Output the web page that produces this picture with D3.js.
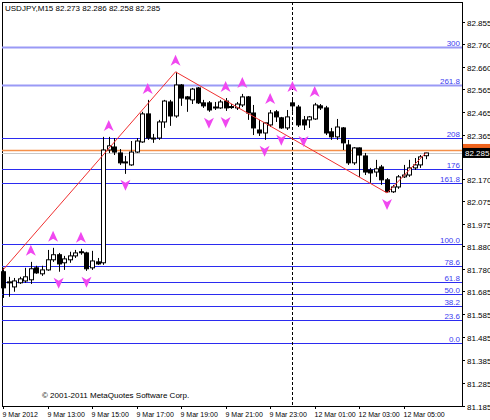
<!DOCTYPE html>
<html>
<head>
<meta charset="utf-8">
<script src="https://cdn.jsdelivr.net/npm/d3@7"></script>
<style>
body { margin: 0; background: #fff; }
svg { font-family: "Liberation Sans", Arial, sans-serif; }
</style>
</head>
<body>
<svg id="chart"></svg>
<script>
const symbolTitle = 'USDJPY,M15  82.273 82.286 82.258 82.285';

// bars, oldest first
const opens = [81.768,81.720,81.702,81.720,81.728,81.733,81.785,81.759,81.776,81.820,81.842,81.807,81.820,81.837,81.855,81.850,81.785,81.811,81.807,82.298,
  82.311,82.285,82.246,82.233,82.289,82.333,82.455,82.350,82.350,82.420,82.507,82.446,82.581,82.529,82.516,82.568,82.503,82.503,82.481,82.481,
  82.511,82.485,82.481,82.494,82.529,82.459,82.385,82.372,82.407,82.464,82.438,82.394,82.503,82.485,82.429,82.429,82.433,82.490,82.481,82.377,
  82.355,82.394,82.320,82.242,82.307,82.272,82.211,82.202,82.224,82.168,82.116,82.137,82.181,82.189,82.220,82.233,82.273];
const highs = [81.785,81.746,81.741,81.746,81.785,81.811,81.794,81.794,81.863,81.872,81.850,81.837,81.855,81.863,81.868,81.855,81.859,81.828,82.355,82.355,
  82.350,82.302,82.272,82.337,82.350,82.464,82.516,82.368,82.429,82.516,82.516,82.638,82.585,82.533,82.568,82.572,82.516,82.511,82.507,82.516,
  82.524,82.498,82.507,82.542,82.533,82.494,82.429,82.416,82.472,82.472,82.442,82.472,82.524,82.494,82.446,82.446,82.503,82.498,82.490,82.394,
  82.433,82.398,82.342,82.311,82.309,82.285,82.220,82.255,82.233,82.176,82.146,82.189,82.233,82.255,82.263,82.276,82.286];
const lows = [81.654,81.659,81.681,81.715,81.720,81.715,81.759,81.750,81.772,81.811,81.768,81.776,81.807,81.828,81.842,81.772,81.776,81.798,81.798,82.285,
  82.276,82.233,82.194,82.229,82.285,82.329,82.342,82.329,82.342,82.394,82.403,82.438,82.490,82.464,82.498,82.498,82.481,82.464,82.472,82.477,
  82.468,82.477,82.472,82.485,82.429,82.363,82.359,82.342,82.398,82.420,82.390,82.385,82.464,82.398,82.385,82.394,82.429,82.472,82.363,82.342,
  82.342,82.298,82.233,82.233,82.181,82.189,82.155,82.181,82.146,82.111,82.111,82.129,82.176,82.181,82.211,82.220,82.258];
const closes = [81.698,81.724,81.728,81.737,81.746,81.781,81.763,81.776,81.820,81.842,81.802,81.824,81.837,81.850,81.853,81.781,81.815,81.802,82.298,82.316,
  82.289,82.242,82.244,82.289,82.337,82.455,82.350,82.348,82.420,82.511,82.446,82.581,82.524,82.520,82.563,82.503,82.490,82.472,82.485,82.507,
  82.481,82.487,82.498,82.529,82.459,82.394,82.372,82.416,82.459,82.442,82.394,82.442,82.490,82.407,82.407,82.442,82.494,82.481,82.372,82.355,
  82.398,82.329,82.242,82.307,82.276,82.202,82.198,82.216,82.168,82.116,82.137,82.181,82.189,82.220,82.233,82.268,82.285];

const fractalUp = [5, 9, 14, 19, 26, 31, 40, 43, 48, 52, 56];
const fractalDown = [10, 15, 22, 37, 40, 47, 50, 54, 69];

const zigzagBars = [0, 31, 69, 76];
const zigzagPrices = [81.776, 82.638, 82.111, 82.286];

const fiboLevels = ['0.0', '23.6', '38.2', '50.0', '61.8', '78.6', '100.0', '161.8', '176', '208', '261.8', '300'];
const fiboPrices = [81.459, 81.559, 81.620, 81.672, 81.725, 81.794, 81.889, 82.155, 82.216, 82.350, 82.581, 82.746];

// 82.270 sits under the bid label box, so it is not listed
const priceTicks = ['82.855','82.760','82.660','82.565','82.465','82.365','82.170','82.075','81.975','81.880','81.780','81.685','81.585','81.485','81.385','81.285','81.185'];
const timeTickBars = [0, 8, 16, 24, 32, 40, 48, 56, 64, 72];
const timeTickLabels = ['9 Mar 2012','9 Mar 13:00','9 Mar 15:00','9 Mar 17:00','9 Mar 19:00','9 Mar 21:00','9 Mar 23:00','12 Mar 01:00','12 Mar 03:00','12 Mar 05:00'];

const bidPrice = 82.285, askPrice = 82.298, periodSepBar = 52;

const W = 490, H = 420, plotL = 2, plotR = 462, plotT = 2, plotB = 406;

const svg = d3.select('#chart').attr('width', W).attr('height', H);

const x = d3.scaleLinear().domain([0, 76]).range([3, 426]);
const y = d3.scaleLinear().domain([81.185, 82.855]).range([405.7, 22]);

// frame
svg.append('rect').attr('x', plotL + 0.5).attr('y', plotT + 0.5)
    .attr('width', plotR - plotL).attr('height', plotB - plotT)
    .attr('fill', 'none').attr('stroke', '#000');

// fibo lines
fiboLevels.forEach((lv, i) => {
    const yy = Math.round(y(fiboPrices[i])) + 0.5;
    const thick = lv === '300' || lv === '261.8';
    svg.append('line').attr('x1', plotL).attr('x2', plotR).attr('y1', yy).attr('y2', yy)
        .attr('stroke', thick ? '#9a9af6' : '#2b2bf0').attr('stroke-width', thick ? 2 : 1);
    svg.append('text').attr('x', plotR - 2).attr('y', yy - 2)
        .attr('text-anchor', 'end').attr('font-size', '8px').attr('fill', '#3c3cf0').text(lv);
});

// ask/bid lines
svg.append('line').attr('x1', plotL).attr('x2', plotR)
    .attr('y1', Math.round(y(askPrice)) + 0.5).attr('y2', Math.round(y(askPrice)) + 0.5)
    .attr('stroke', '#f5904a').attr('stroke-width', 1.5);
svg.append('line').attr('x1', plotL).attr('x2', plotR)
    .attr('y1', Math.round(y(bidPrice)) + 0.5).attr('y2', Math.round(y(bidPrice)) + 0.5)
    .attr('stroke', '#c8c8c8');

// period separator
svg.append('line').attr('x1', Math.round(x(periodSepBar)) + 0.5).attr('x2', Math.round(x(periodSepBar)) + 0.5)
    .attr('y1', plotT).attr('y2', plotB)
    .attr('stroke', '#000').attr('stroke-dasharray', '3,2');

// candles
const bars = d3.range(opens.length);
const g = svg.append('g');
g.selectAll('line.wick').data(bars).enter().append('line')
    .attr('x1', i => Math.round(x(i)) + 0.5).attr('x2', i => Math.round(x(i)) + 0.5)
    .attr('y1', i => y(highs[i])).attr('y2', i => y(lows[i]))
    .attr('stroke', '#000');
g.selectAll('rect.body').data(bars).enter().append('rect')
    .attr('x', i => Math.round(x(i)) - 1.5)
    .attr('y', i => y(Math.max(opens[i], closes[i])))
    .attr('width', 4)
    .attr('height', i => Math.max(1, Math.abs(y(opens[i]) - y(closes[i]))))
    .attr('fill', i => closes[i] >= opens[i] ? '#fff' : '#000')
    .attr('stroke', '#000').attr('stroke-width', 1);

// zigzag
svg.append('path')
    .attr('d', d3.line().x(i => x(zigzagBars[i])).y(i => y(zigzagPrices[i]))(d3.range(zigzagBars.length)))
    .attr('fill', 'none').attr('stroke', '#f03030').attr('stroke-width', 1);

// fractals
const arrowUp = 'M0,-6 L5,5 L0,2 L-5,5 Z';
svg.selectAll('path.fup').data(fractalUp).enter().append('path')
    .attr('d', arrowUp)
    .attr('transform', i => `translate(${x(i)},${y(highs[i]) - 11})`)
    .attr('fill', '#f048f0');
svg.selectAll('path.fdn').data(fractalDown).enter().append('path')
    .attr('d', arrowUp)
    .attr('transform', i => `translate(${x(i)},${y(lows[i]) + 11}) rotate(180)`)
    .attr('fill', '#f048f0');

// price axis
priceTicks.forEach(t => {
    const yy = Math.round(y(+t)) + 0.5;
    svg.append('line').attr('x1', plotR).attr('x2', plotR + 3).attr('y1', yy).attr('y2', yy).attr('stroke', '#000');
    svg.append('text').attr('x', plotR + 5).attr('y', yy + 3)
        .attr('font-size', '8px').attr('fill', '#000').text(t);
});
const by = y(bidPrice);
svg.append('rect').attr('x', plotR + 1).attr('y', by - 9).attr('width', 28).attr('height', 7).attr('fill', '#f0641e');
svg.append('rect').attr('x', plotR + 1).attr('y', by - 5).attr('width', 28).attr('height', 10).attr('fill', '#000');
svg.append('text').attr('x', plotR + 3).attr('y', by + 3).attr('font-size', '8px').attr('fill', '#fff').text(bidPrice.toFixed(3));

// time axis
timeTickBars.forEach((b, i) => {
    const xx = Math.round(x(b)) + 0.5;
    svg.append('line').attr('x1', xx).attr('x2', xx).attr('y1', plotB).attr('y2', plotB + 3).attr('stroke', '#000');
    svg.append('text').attr('x', xx - 1).attr('y', plotB + 11)
        .attr('font-size', '7px').attr('fill', '#000').text(timeTickLabels[i]);
});

svg.append('text').attr('x', 5).attr('y', 11).attr('font-size', '8px').attr('fill', '#000').text(symbolTitle);
svg.append('text').attr('x', 42).attr('y', 405 - 7).attr('font-size', '8px').attr('fill', '#000')
    .text('© 2001-2011 MetaQuotes Software Corp.');
</script>
</body>
</html>
